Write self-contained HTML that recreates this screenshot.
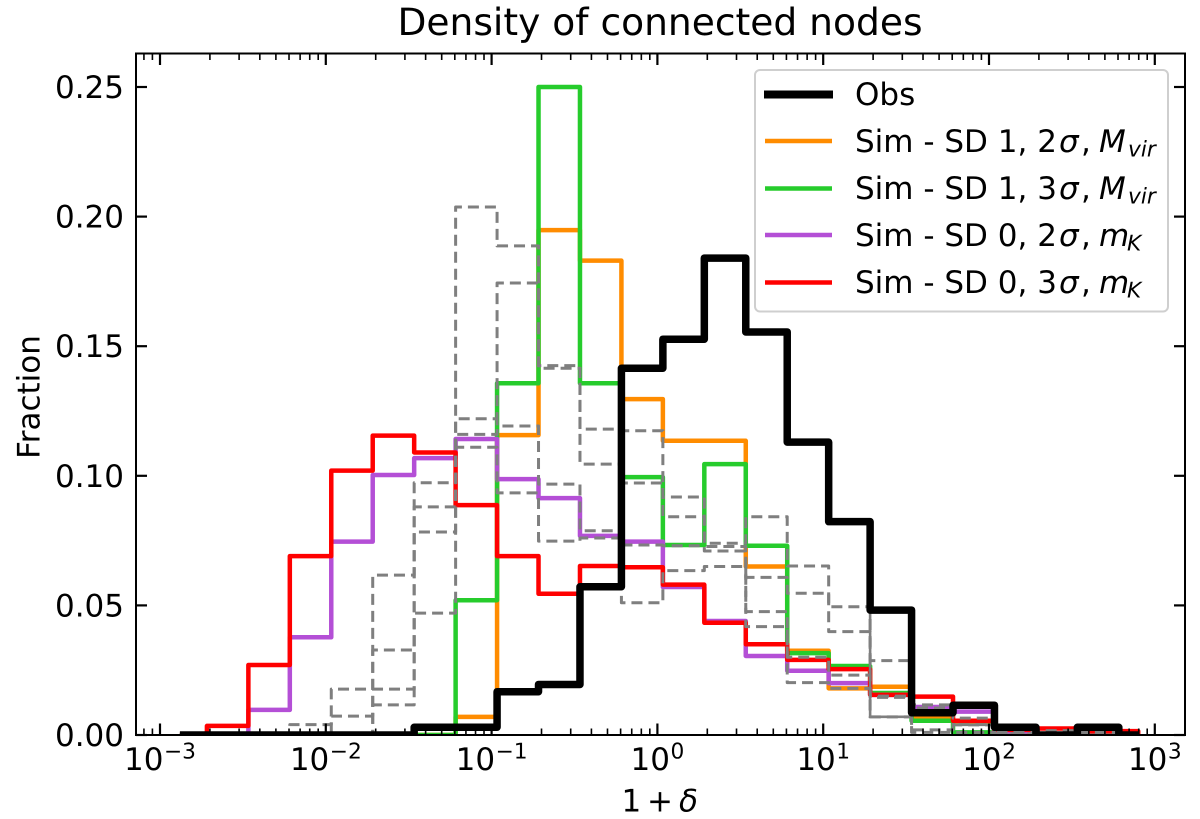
<!DOCTYPE html>
<html lang="en">
<head>
<meta charset="utf-8">
<title>Density of connected nodes</title>
<style>
html,body{margin:0;padding:0;background:#fff;}
svg{display:block;}
text{font-family:"DejaVu Sans","Liberation Sans",sans-serif;fill:#000;text-rendering:geometricPrecision;}
</style>
</head>
<body>
<svg id="chart" xmlns="http://www.w3.org/2000/svg" width="1200" height="819" viewBox="0 0 1200 819">
  <defs><clipPath id="axes-clip"><rect x="136" y="53.5" width="1049" height="682.5"></rect></clipPath></defs>
  <text x="660" y="35" font-size="37.6" text-anchor="middle">Density of connected nodes</text>
  <text transform="translate(39.5,397) rotate(-90)" font-size="31" text-anchor="middle">Fraction</text>
  <text y="811.5" font-size="31"><tspan x="621.5">1</tspan><tspan x="647">+</tspan><tspan x="679" font-style="italic">δ</tspan></text>
  <g id="series-layer" clip-path="url(#axes-clip)" fill="none"></g>
  <g id="axis-layer"></g>
  <g>
    <rect x="755" y="70" width="413" height="241.5" rx="5" ry="5" fill="#fff" stroke="#cfcfcf" stroke-width="2"></rect>
    <line x1="764" y1="94.5" x2="833" y2="94.5" stroke="#000" stroke-width="8"></line>
    <text x="855" y="105" font-size="31">Obs</text>
    <line x1="765" y1="141" x2="832" y2="141" stroke="#ff8c00" stroke-width="4.5"></line>
    <text x="855" y="152" font-size="31">Sim - SD 1, 2<tspan x="1059" font-style="italic">σ</tspan><tspan x="1081">,</tspan><tspan x="1099" font-style="italic">M</tspan><tspan x="1128" font-style="italic" font-size="21.7" dy="4.5">vir</tspan></text>
    <line x1="765" y1="188.5" x2="832" y2="188.5" stroke="#26cc2c" stroke-width="4.5"></line>
    <text x="855" y="199" font-size="31">Sim - SD 1, 3<tspan x="1059" font-style="italic">σ</tspan><tspan x="1081">,</tspan><tspan x="1099" font-style="italic">M</tspan><tspan x="1128" font-style="italic" font-size="21.7" dy="4.5">vir</tspan></text>
    <line x1="765" y1="235" x2="832" y2="235" stroke="#b44fd6" stroke-width="4.5"></line>
    <text x="855" y="246" font-size="31">Sim - SD 0, 2<tspan x="1059" font-style="italic">σ</tspan><tspan x="1081">,</tspan><tspan x="1099" font-style="italic">m</tspan><tspan x="1127" font-style="italic" font-size="21.7" dy="4.5">K</tspan></text>
    <line x1="765" y1="282.5" x2="832" y2="282.5" stroke="#ff0000" stroke-width="4.5"></line>
    <text x="855" y="293" font-size="31">Sim - SD 0, 3<tspan x="1059" font-style="italic">σ</tspan><tspan x="1081">,</tspan><tspan x="1099" font-style="italic">m</tspan><tspan x="1127" font-style="italic" font-size="21.7" dy="4.5">K</tspan></text>
  </g>
</svg>
<script>
// log10(1+delta) bin edges
const binEdges = [-2.88,-2.717,-2.467,-2.217,-1.967,-1.717,-1.467,-1.217,-0.967,-0.717,-0.467,-0.217,0.033,0.283,0.533,0.783,1.033,1.283,1.533,1.783,2.033,2.283,2.533,2.783,2.90];

const simOrange = [0,0,0,0,0,0,0,.007,.1157,.1948,.183,.1296,.1135,.1135,.065,.0325,.018,.0186,.0065,.005,0,0,0,0];
const simGreen  = [0,0,0,0,0,0,0,.052,.1357,.25,.1357,.0995,.0733,.1045,.073,.0316,.0266,.0162,.0055,.001,.001,0,0,0];
const simPurple = [0,0,.0097,.0377,.0746,.1003,.1068,.1142,.0987,.0914,.0768,.0746,.0571,.044,.0305,.0248,.02,.0155,.0108,.009,.001,0,.0008,0];
const simRed    = [0,.0035,.027,.069,.102,.1155,.109,.0887,.069,.0545,.0652,.0647,.058,.0433,.035,.029,.0254,.0155,.0148,.0055,.002,.0025,.001,.0015];
const grayA = [0,0,0,.004,.0073,.0116,.047,.2037,.1887,.1425,.118,.0972,.0842,.0727,.0608,.0547,.0399,.0287,.0116,.0065,.001,.0017,.001,0];
const grayB = [0,0,0,0,0,.0617,.0973,.116,.1744,.1415,.1045,.1174,.0918,.074,.0842,.0652,.0495,.015,.0104,.0039,.0005,0,0,0];
const grayC = [0,0,0,0,.0177,.0177,.0783,.122,.1192,.0968,.0788,.0733,.073,.071,.0476,.03,.0231,.0145,.002,.004,0,0,0,0];
const grayD = [0,0,0,0,0,.0328,.088,.111,.0934,.0748,.076,.051,.0634,.065,.0418,.0202,.018,.007,.001,.001,0,0,0,0];
// Stretch of the gray curves where the dash gaps overlap and the line reads as solid
const graySolidBins = [16,17];
const graySolidValues = [.0495,.007];
const obs = [0,0,0,0,0,0,.003,.003,.0167,.0195,.0572,.1415,.1527,.184,.1555,.113,.0823,.0482,.0086,.0115,.003,0,.003,0];

const xMajorTicks = [-3,-2,-1,0,1,2,3];
const xMajorLabels = ['−3','−2','−1','0','1','2','3'];
const yTicks = [0,0.05,0.10,0.15,0.20,0.25];
const yTickLabels = ['0.00','0.05','0.10','0.15','0.20','0.25'];
const minorMultiples = [2,3,4,5,6,7,8,9];

const NS = 'http://www.w3.org/2000/svg';
const plot = {left:136, right:1185, top:53.5, bottom:735};
function xScale(logValue){ return 160 + 165.8 * (logValue + 3); }
function yScale(value){ return 735 - 2592 * value; }

function mk(parent, tag, attrs){
  const el = document.createElementNS(NS, tag);
  for (const k in attrs) el.setAttribute(k, attrs[k]);
  parent.appendChild(el);
  return el;
}

function stepPath(values){
  let d = 'M' + xScale(binEdges[0]).toFixed(2) + ' ' + yScale(0).toFixed(2);
  values.forEach(function(v, i){
    const y = yScale(v).toFixed(2);
    d += 'L' + xScale(binEdges[i]).toFixed(2) + ' ' + y;
    d += 'L' + xScale(binEdges[i + 1]).toFixed(2) + ' ' + y;
  });
  d += 'L' + xScale(binEdges[values.length]).toFixed(2) + ' ' + yScale(0).toFixed(2);
  return d;
}

const seriesLayer = document.getElementById('series-layer');
function drawSeries(name, values, color, width, dash){
  const p = mk(seriesLayer, 'path', {d: stepPath(values), stroke: color, 'stroke-width': width, 'stroke-linejoin': 'round'});
  if (dash) p.setAttribute('stroke-dasharray', dash);
  
  
}
drawSeries('series-sd1-2sigma', simOrange, '#ff8c00', 4.5);
drawSeries('series-sd1-3sigma', simGreen, '#26cc2c', 4.5);
drawSeries('series-sd0-2sigma', simPurple, '#b44fd6', 4.5);
drawSeries('series-sd0-3sigma', simRed, '#ff0000', 4.5);
drawSeries('series-gray-dashed-a', grayA, '#7f7f7f', 3, '11 6');
drawSeries('series-gray-dashed-b', grayB, '#7f7f7f', 3, '11 6');
drawSeries('series-gray-dashed-c', grayC, '#7f7f7f', 3, '11 6');
drawSeries('series-gray-dashed-d', grayD, '#7f7f7f', 3, '11 6');

const solidStretch = mk(seriesLayer, 'path', {
  d: 'M' + xScale(binEdges[graySolidBins[1]]).toFixed(2) + ' ' + yScale(graySolidValues[0]).toFixed(2) +
     'L' + xScale(binEdges[graySolidBins[1]]).toFixed(2) + ' ' + yScale(graySolidValues[1]).toFixed(2) +
     'L' + xScale(binEdges[graySolidBins[1] + 1]).toFixed(2) + ' ' + yScale(graySolidValues[1]).toFixed(2),
  stroke: '#7f7f7f', 'stroke-width': 2.6
});



drawSeries('series-obs', obs, '#000000', 7.5);

const axisLayer = document.getElementById('axis-layer');
function tickLine(name, x1, y1, x2, y2, w){
  const t = mk(axisLayer, 'line', {x1:x1, y1:y1, x2:x2, y2:y2, stroke:'#000', 'stroke-width':w});
  
  
}

// x ticks (log axis): major and minor, on bottom and top, pointing inward
const xDomain = [-3.145, 3.18];
for (let d = -4; d <= 3; d++){
  minorMultiples.forEach(function(m){
    const lv = d + Math.log10(m);
    if (lv < xDomain[0] || lv > xDomain[1]) return;
    const x = xScale(lv);
    tickLine('x-minor-tick-bottom', x, plot.bottom, x, plot.bottom - 6.5, 1.6);
    tickLine('x-minor-tick-top', x, plot.top, x, plot.top + 6.5, 1.6);
  });
}
xMajorTicks.forEach(function(lv, i){
  const x = xScale(lv);
  tickLine('x-major-tick-bottom', x, plot.bottom, x, plot.bottom - 11.5, 2.2);
  tickLine('x-major-tick-top', x, plot.top, x, plot.top + 11.5, 2.2);
  const label = mk(axisLayer, 'text', {x:x, y:770, 'font-size':31, 'text-anchor':'middle'});
  
  
  const base = mk(label, 'tspan', {});
  base.textContent = '10';
  const sup = mk(label, 'tspan', {dy:-11.5, dx:0.5, 'font-size':21.7});
  sup.textContent = xMajorLabels[i];
});

// y ticks on left and right
yTicks.forEach(function(v, i){
  const y = yScale(v);
  tickLine('y-major-tick-left', plot.left, y, plot.left + 11, y, 2.2);
  tickLine('y-major-tick-right', plot.right, y, plot.right - 11, y, 2.2);
  const label = mk(axisLayer, 'text', {x:124, y:y + 11, 'font-size':31, 'text-anchor':'end'});
  
  
  label.textContent = yTickLabels[i];
});

// axes frame
const frame = mk(axisLayer, 'rect', {x:plot.left, y:plot.top, width:plot.right - plot.left, height:plot.bottom - plot.top, fill:'none', stroke:'#000', 'stroke-width':2});


</script>
</body>
</html>
